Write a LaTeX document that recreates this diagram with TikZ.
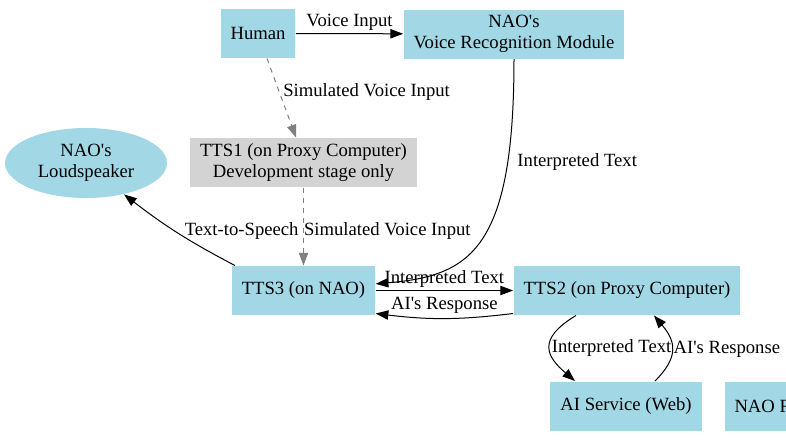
\documentclass[tikz,border=0pt]{standalone}
\usepackage{fontspec}
\setmainfont{Liberation Serif}
\usetikzlibrary{positioning, calc, arrows.meta, shapes.geometric}
\definecolor{naoblue}{RGB}{162,216,230}
\definecolor{devgrey}{RGB}{211,211,211}
\tikzset{
    box/.style={rectangle, fill=naoblue, minimum width=54pt, minimum height=36.75pt, inner xsep=7.5pt, align=center},
    devbox/.style={box, fill=devgrey},
    speaker/.style={ellipse, fill=naoblue, minimum width=121.5pt, minimum height=52.5pt, inner sep=1pt, align=center},
    simline/.style={draw=gray, dash pattern=on 3.75pt off 3.75pt, ->},
    lbl/.style={inner sep=1pt}
}
\newcommand{\apo}{\textquotesingle}

\begin{document}
\begin{tikzpicture}[x=0.75pt, y=-0.75pt, line width=0.75pt, >={Triangle[length=9.5pt,width=7pt]}, font=\fontsize{14}{16}\selectfont]
                    \useasboundingbox (0,0) rectangle (786,440);
                    % nodes
                    \node[box] (human) at (258,33.5) {Human};
                    \node[box] (nrm) at (514,34) {NAO\apo s\\Voice Recognition Module};
                    \node[speaker] (spk) at (86,163) {NAO\apo s\\Loudspeaker};
                    \node[devbox] (tts1) at (303.5,162.5) {TTS1 (on Proxy Computer)\\Development stage only};
                    \node[box] (tts3) at (303.5,290.5) {TTS3 (on NAO)};
                    \node[box] (tts2) at (627,290.5) {TTS2 (on Proxy Computer)};
                    \node[box, minimum width=114pt] (ai) at (626,406) {AI Service (Web)};
                    \node[box, anchor=west] (robot) at (724,406) {NAO Robot};
                    % edges
                    \draw[->] (human) -- node[lbl, above, yshift=1pt] {Voice Input} (nrm);
                    \draw[simline] ([xshift=6.75pt]human.south) -- node[lbl, anchor=west, pos=0.43, xshift=1.5pt] {Simulated Voice Input} ([xshift=-5.6pt]tts1.north);
                    \draw[simline] (tts1) -- node[lbl, anchor=west, pos=0.56, inner sep=0pt] {Simulated Voice Input} (tts3);
                    \draw[->] (nrm.south) .. controls +(0,190) and +(95,-8) .. node[lbl, pos=0.22, anchor=west, xshift=6pt] {Interpreted Text} ([yshift=5pt]tts3.east);
                    \draw[->] ([xshift=-51.4pt]tts3.north) to[bend left=5] node[lbl, at start, anchor=south, xshift=5pt, yshift=18pt] {Text-to-Speech} (spk);
                    \draw[->] (tts3) -- node[lbl, above, yshift=1pt] {Interpreted Text} (tts2);
                    \draw[->] ([yshift=1.5pt]tts2.south west) to[bend left=7] node[lbl, above, yshift=2pt] {AI\apo s Response} ([yshift=1.5pt]tts3.south east);
                    \draw[->] ([xshift=-38.25pt]tts2.south) .. controls +(-40,24) and +(-28,-24) .. node[lbl, pos=0.5, anchor=west] {Interpreted Text} ([xshift=-38.25pt]ai.north);
                    \draw[->] ([xshift=21.75pt]ai.north) .. controls +(24,-24) and +(22,26) .. node[lbl, pos=0.5, anchor=west] {AI\apo s Response} ([xshift=20.25pt]tts2.south);
                \end{tikzpicture}
\end{document}
